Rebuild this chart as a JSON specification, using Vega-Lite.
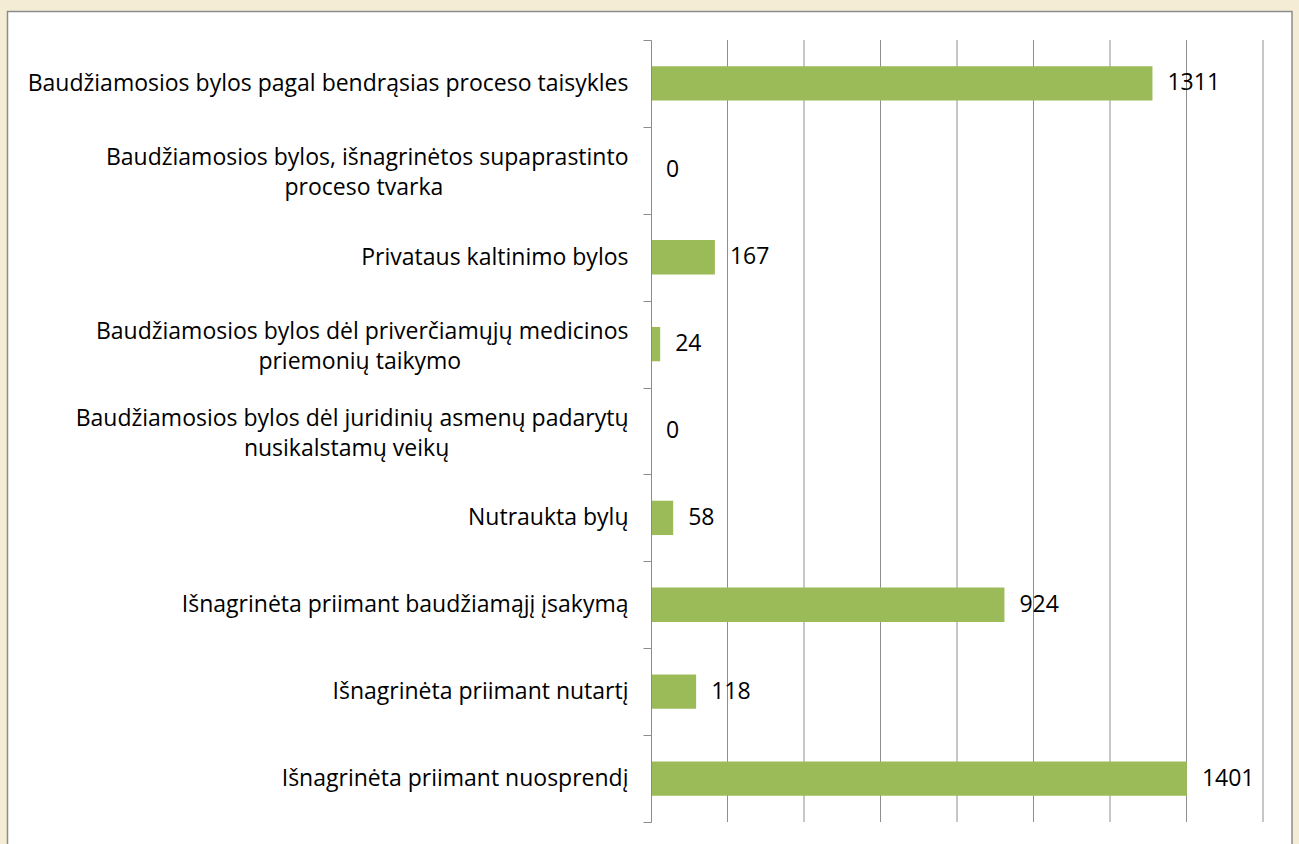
{
  "$schema": "https://vega.github.io/schema/vega-lite/v6.json",
  "width": 612,
  "height": 782,
  "autosize": {"type": "none"},
  "padding": {"left": 651, "top": 40, "right": 36, "bottom": 22},
  "background": "#F5ECD5",
  "config": {"view": {"stroke": null}},
  "datasets": {
    "cases": [
      {"cat": "Baudžiamosios bylos pagal bendrąsias proceso taisykles", "n": 1311},
      {"cat": "Baudžiamosios bylos, išnagrinėtos supaprastinto|proceso tvarka\u00a0\u00a0\u00a0\u00a0\u00a0\u00a0\u00a0\u00a0\u00a0\u00a0\u00a0\u00a0\u00a0\u00a0\u00a0\u00a0\u00a0\u00a0\u00a0\u00a0\u00a0\u00a0\u00a0\u00a0\u00a0\u00a0\u00a0\u00a0\u00a0\u00a0\u00a0\u200b", "n": 0},
      {"cat": "Privataus kaltinimo bylos", "n": 167},
      {"cat": "Baudžiamosios bylos dėl priverčiamųjų medicinos|priemonių taikymo\u00a0\u00a0\u00a0\u00a0\u00a0\u00a0\u00a0\u00a0\u00a0\u00a0\u00a0\u00a0\u00a0\u00a0\u00a0\u00a0\u00a0\u00a0\u00a0\u00a0\u00a0\u00a0\u00a0\u00a0\u00a0\u00a0\u00a0\u00a0\u200b", "n": 24},
      {"cat": "Baudžiamosios bylos dėl juridinių asmenų padarytų|nusikalstamų veikų\u00a0\u00a0\u00a0\u00a0\u00a0\u00a0\u00a0\u00a0\u00a0\u00a0\u00a0\u00a0\u00a0\u00a0\u00a0\u00a0\u00a0\u00a0\u00a0\u00a0\u00a0\u00a0\u00a0\u00a0\u00a0\u00a0\u00a0\u00a0\u00a0\u00a0\u200b", "n": 0},
      {"cat": "Nutraukta bylų", "n": 58},
      {"cat": "Išnagrinėta priimant baudžiamąjį įsakymą", "n": 924},
      {"cat": "Išnagrinėta priimant nutartį", "n": 118},
      {"cat": "Išnagrinėta priimant nuosprendį", "n": 1401}
    ],
    "grid": [
      {"g": 200}, {"g": 400}, {"g": 600}, {"g": 800},
      {"g": 1000}, {"g": 1200}, {"g": 1400}, {"g": 1600}
    ]
  },
  "layer": [
    {
      "data": {"values": [{}]},
      "mark": {"type": "rect", "fill": "white", "stroke": "#8C8C8C", "strokeWidth": 1.5, "clip": false},
      "encoding": {
        "x": {"datum": -1.0515, "type": "quantitative", "scale": {"domain": [0, 1], "nice": false, "zero": false}, "axis": null},
        "x2": {"datum": 1.0474},
        "y": {"datum": 1.0364, "type": "quantitative", "scale": {"domain": [0, 1], "nice": false, "zero": false}, "axis": null},
        "y2": {"datum": -0.06}
      }
    },
    {
      "layer": [
        {
          "data": {"name": "grid"},
          "mark": {"type": "rule", "color": "#8E8E8E", "strokeWidth": 1},
          "encoding": {
            "x": {"field": "g", "type": "quantitative", "scale": {"domain": [0, 1600], "nice": false}, "axis": null}
          }
        },
        {
          "data": {"name": "cases"},
          "mark": {"type": "bar", "color": "#9BBB59", "height": {"band": 0.395}},
          "encoding": {
            "y": {
              "field": "cat", "type": "nominal", "sort": null,
              "scale": {"paddingInner": 0, "paddingOuter": 0},
              "axis": {
                "title": null,
                "zindex": 1,
                "domainColor": "#8C8C8C",
                "domainWidth": 1,
                "tickColor": "#8C8C8C",
                "tickSize": 8,
                "tickBand": "extent",
                "labelPadding": 15,
                "labelFont": "Open Sans",
                "labelFontSize": 23,
                "labelColor": "#000000",
                "labelLimit": 0,
                "labelLineHeight": 30,
                "labelOffset": {"condition": {"test": "datum.value && indexof(datum.value, '|') >= 0", "value": -13}, "value": 0},
                "labelExpr": "datum.value ? split(datum.value, '|') : ''"
              }
            },
            "x": {"field": "n", "type": "quantitative", "scale": {"domain": [0, 1600], "nice": false}, "axis": null}
          }
        },
        {
          "data": {"name": "cases"},
          "mark": {"type": "text", "align": "left", "baseline": "middle", "dx": 15, "font": "Open Sans", "fontSize": 23, "color": "#000000"},
          "encoding": {
            "y": {"field": "cat", "type": "nominal", "sort": null},
            "x": {"field": "n", "type": "quantitative"},
            "text": {"field": "n", "type": "quantitative"}
          }
        }
      ]
    }
  ],
  "resolve": {"scale": {"x": "independent", "y": "independent"}}
}
